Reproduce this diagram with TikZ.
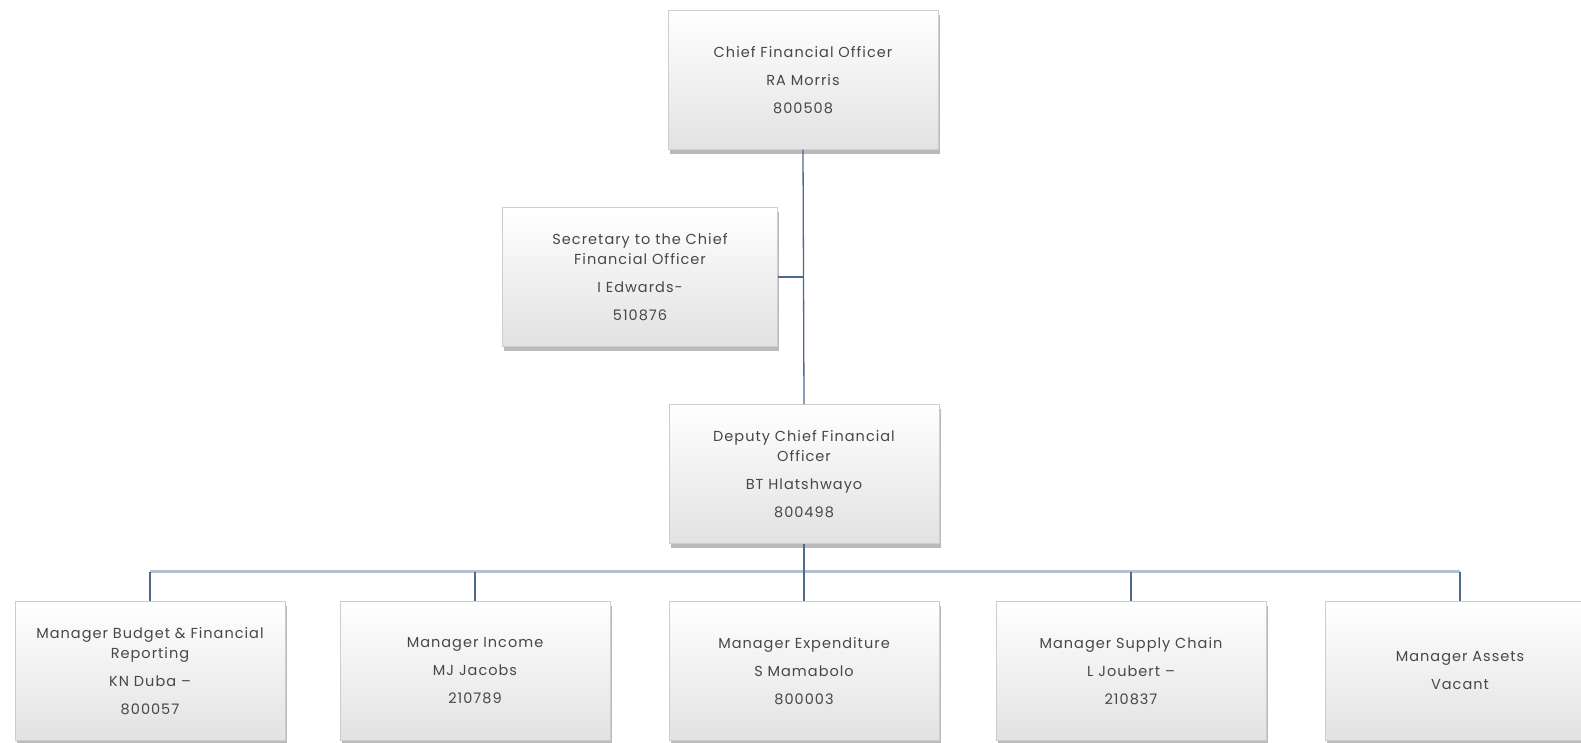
\documentclass[tikz,border=0pt]{standalone}
\usepackage{fontspec}
\setmainfont{Poppins}[LetterSpace=7]
\usetikzlibrary{shadows,calc}
\definecolor{boxedge}{RGB}{205,205,205}
\definecolor{boxlow}{RGB}{226,226,226}
\definecolor{linkdark}{RGB}{80,104,140}
\definecolor{buscol}{RGB}{178,192,210}
\tikzset{
  orgbox/.style={draw=boxedge, line width=0.8pt,
    top color=white, bottom color=boxlow,
    minimum width=270pt, minimum height=139pt,
    align=center, inner sep=2pt, text=black!72,
    font=\fontsize{14.5}{20}\selectfont,
    drop shadow={shadow xshift=1.5pt, shadow yshift=-4pt, fill=black!45, opacity=0.6}},
  link/.style={draw=linkdark, line width=1.3pt},
  busline/.style={draw=buscol, line width=3pt}
}
\newcommand{\pgap}{\\[8pt]}
\begin{document}
\begin{tikzpicture}[x=1pt,y=-1pt]
\useasboundingbox (0,0) rectangle (1581,742);

\node[orgbox] (cfo) at (803,80) {Chief Financial Officer\pgap RA Morris\pgap 800508};
\node[orgbox, minimum width=275pt] (sec) at (640,277) {Secretary to the Chief\\Financial Officer\pgap I Edwards-\pgap 510876};
\node[orgbox] (dep) at (804,474) {Deputy Chief Financial\\Officer\pgap BT Hlatshwayo\pgap 800498};

\node[orgbox] (m1) at (150,671) {Manager Budget \& Financial\\Reporting\pgap KN Duba --\pgap 800057};
\node[orgbox] (m2) at (475,671) {Manager Income\pgap MJ Jacobs\pgap 210789};
\node[orgbox] (m3) at (804,671) {Manager Expenditure\pgap S Mamabolo\pgap 800003};
\node[orgbox] (m4) at (1131,671) {Manager Supply Chain\pgap L Joubert --\pgap 210837};
\node[orgbox] (m5) at (1460,671) {Manager Assets\pgap Vacant};

% reporting lines
\coordinate (bus) at ($(dep.south)+(0,28)$);
\draw[link] (cfo.south) -- (dep.north);
\draw[link] (sec.east) -- (sec.east -| cfo.south);
\draw[busline] (m1.north |- bus) -- (m5.north |- bus);
\draw[link] (dep.south) -- (bus);
\foreach \m in {m1,m2,m3,m4,m5}
  \draw[link] (\m.north |- bus) -- (\m.north);
\end{tikzpicture}
\end{document}
